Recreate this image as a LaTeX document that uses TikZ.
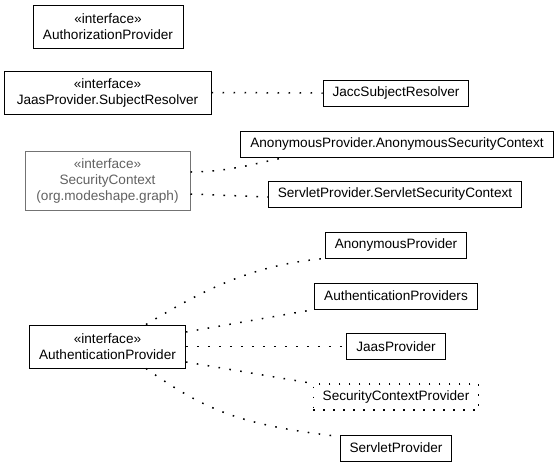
\documentclass[tikz,border=0pt]{standalone}
\usepackage{fontspec}
\setmainfont{Liberation Sans}
\begin{document}
\begin{tikzpicture}[x=1pt,y=-1pt,
  every node/.style={font=\fontsize{13.6}{16}\selectfont},
  box/.style={draw=black, line width=1pt, inner xsep=9.5pt, inner ysep=0pt, minimum height=26pt, align=center},
  twobox/.style={box, minimum height=43pt},
  graybox/.style={box, draw=black!55, text=black!62, minimum height=59pt},
  dotbox/.style={box, draw=black, line width=1.2pt, dash pattern=on 1.5pt off 8.5pt},
  dep/.style={draw=black, line width=1.5pt, dash pattern=on 1.6pt off 9.4pt}
]
\useasboundingbox (0,0) rectangle (557,467);

% left column
\node[twobox, minimum width=150pt] (authz) at (108,26.5) {«interface»\\AuthorizationProvider};
\node[twobox, minimum width=207pt] (subjres) at (107.5,92.5) {«interface»\\JaasProvider.SubjectResolver};
\node[graybox, minimum width=165pt] (secctx) at (107.5,181) {«interface»\\SecurityContext\\(org.modeshape.graph)};
\node[twobox, minimum width=155pt] (authn) at (107.5,346.5) {«interface»\\AuthenticationProvider};

% right column
\node[box] (jacc) at (396,93) {JaccSubjectResolver};
\node[box] (anonsc) at (397,144) {AnonymousProvider.AnonymousSecurityContext};
\node[box] (servletsc) at (395,194) {ServletProvider.ServletSecurityContext};
\node[box] (anonp) at (396,245) {AnonymousProvider};
\node[box] (authps) at (396,296) {AuthenticationProviders};
\node[box] (jaasp) at (396,346.5) {JaasProvider};
\node[dotbox] (scp) at (396,397) {SecurityContextProvider};
\node[box] (servletp) at (396,448) {ServletProvider};

% connectors
\draw[dep] (subjres.east) -- (jacc.west);
\draw[dep] ([yshift=9pt]secctx.east) .. controls (230,172) and (260,162) .. ([xshift=45pt]anonsc.south west);
\draw[dep] ([yshift=-13pt]secctx.east) -- ([yshift=-3pt]servletsc.west);
\draw[dep] ([xshift=38.5pt]authn.north) .. controls (200,292) and (250,265) .. (anonp.south west);
\draw[dep] ([yshift=14.5pt]authn.east) -- (authps.south west);
\draw[dep] (authn.east) -- (jaasp.west);
\draw[dep] ([yshift=-15.5pt]authn.east) -- (scp.north west);
\draw[dep] ([xshift=38.5pt]authn.south) .. controls (205,410) and (240,425) .. ([yshift=-2pt]servletp.north west);
\end{tikzpicture}
\end{document}
